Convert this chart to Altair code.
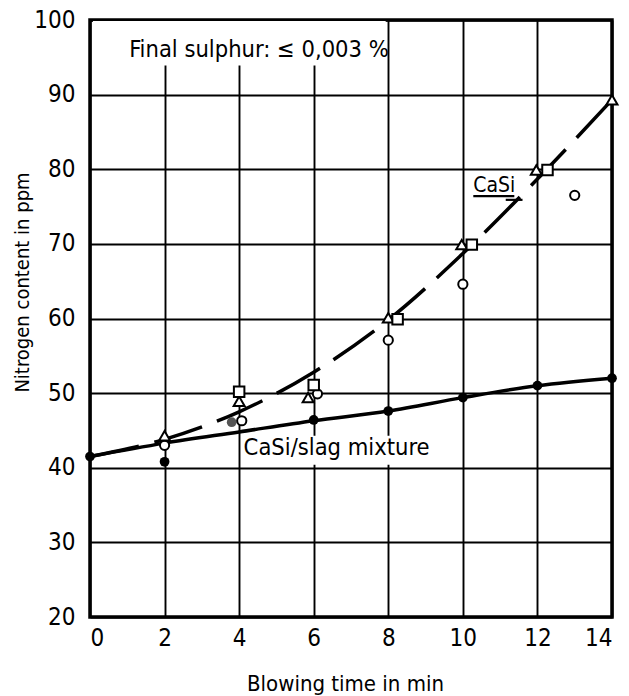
import altair as alt
import pandas as pd

# ---- data ----
time_grid = [0, 2, 4, 6, 8, 10, 12, 14]
casi_curve = [41.5, 43.8, 47.5, 52.8, 59.8, 68.7, 78.7, 89.3]
mix_curve = [41.5, 43.3, 44.8, 46.3, 47.6, 49.4, 51.0, 52.0]

mix_pts_x = [0, 2, 6, 8, 10, 12, 14]
mix_pts_y = [41.5, 40.8, 46.4, 47.6, 49.4, 51.0, 52.0]

gray_pts_x = [3.8]
gray_pts_y = [46.1]

tri_x = [2, 4, 5.85, 8, 9.97, 11.97, 14]
tri_y = [44.3, 48.9, 49.4, 60.1, 69.9, 79.9, 89.3]

sq_x = [4, 6, 8.25, 10.24, 12.27]
sq_y = [50.2, 51.1, 59.9, 69.9, 79.9]

circ_x = [2, 4.07, 6.1, 8, 10, 13]
circ_y = [43.0, 46.3, 49.9, 57.1, 64.6, 76.5]

x_ticks = [0, 2, 4, 6, 8, 10, 12, 14]
y_ticks = [20, 30, 40, 50, 60, 70, 80, 90, 100]

FONT = "DejaVu Sans Condensed, Liberation Sans Narrow, DejaVu Sans, sans-serif"
TICKFONT = "Liberation Sans Narrow, DejaVu Sans Condensed, sans-serif"

W, H = 522, 597

xs = alt.Scale(domain=[0, 14], nice=False, zero=False)
ys = alt.Scale(domain=[20, 100], nice=False, zero=False)

curves = pd.DataFrame({"t": time_grid, "casi": casi_curve, "mix": mix_curve})

x_axis = alt.Axis(
    values=x_ticks, grid=True, gridColor="black", gridWidth=1.9, gridOpacity=1,
    ticks=False, domain=False, labelFont=TICKFONT, labelFontSize=24, labelColor="black",
    labelPadding=9, labelBaseline="top", title="Blowing time in min",
    titleFont=FONT, titleFontSize=22, titleFontWeight="normal", titleColor="black",
    titleX=255, titleY=73, titleBaseline="alphabetic", titleAnchor="start", titleAlign="center",
)
y_axis = alt.Axis(
    values=y_ticks, grid=True, gridColor="black", gridWidth=1.9, gridOpacity=1,
    ticks=False, domain=False, labelFont=TICKFONT, labelFontSize=24, labelColor="black",
    labelPadding=15, title="Nitrogen content in ppm",
    titleFont=FONT, titleFontSize=20, titleFontWeight="normal", titleColor="black",
    titleX=-68, titleY=262, titleAngle=-90, titleAlign="center", titleBaseline="middle",
    titleAnchor="start",
)

base_axes = alt.Chart(curves).mark_line(opacity=0).encode(
    x=alt.X("t:Q", scale=xs, axis=x_axis),
    y=alt.Y("mix:Q", scale=ys, axis=y_axis),
)

mix_line = alt.Chart(curves).mark_line(color="black", strokeWidth=3.5, interpolate="monotone").encode(
    x=alt.X("t:Q", scale=xs), y=alt.Y("mix:Q", scale=ys)
)
casi_line = alt.Chart(curves).mark_line(
    color="black", strokeWidth=3.5, interpolate="monotone", strokeDash=[50, 16]
).encode(x=alt.X("t:Q", scale=xs), y=alt.Y("casi:Q", scale=ys))

# white boxes behind the annotation texts
boxes = pd.DataFrame({
    "x1": [0.08, 4.06], "x2": [7.93, 9.4],
    "y1": [93.9, 40.4], "y2": [99.85, 44.3],
})
box_layer = alt.Chart(boxes).mark_rect(fill="white").encode(
    x=alt.X("x1:Q", scale=xs), x2="x2:Q", y=alt.Y("y1:Q", scale=ys), y2="y2:Q"
)

def pts(xv, yv):
    return pd.DataFrame({"x": xv, "y": yv})

filled = alt.Chart(pts(mix_pts_x, mix_pts_y)).mark_point(
    shape="circle", filled=True, color="black", size=95, opacity=1
).encode(x=alt.X("x:Q", scale=xs), y=alt.Y("y:Q", scale=ys))

gray = alt.Chart(pts(gray_pts_x, gray_pts_y)).mark_point(
    shape="circle", filled=True, color="#555555", size=95, opacity=1
).encode(x=alt.X("x:Q", scale=xs), y=alt.Y("y:Q", scale=ys))

tris = alt.Chart(pts(tri_x, tri_y)).mark_point(
    shape="triangle-up", fill="white", stroke="black", strokeWidth=2, size=120, opacity=1, fillOpacity=1
).encode(x=alt.X("x:Q", scale=xs), y=alt.Y("y:Q", scale=ys))

sqs = alt.Chart(pts(sq_x, sq_y)).mark_point(
    shape="square", fill="white", stroke="black", strokeWidth=2, size=110, opacity=1, fillOpacity=1
).encode(x=alt.X("x:Q", scale=xs), y=alt.Y("y:Q", scale=ys))

circs = alt.Chart(pts(circ_x, circ_y)).mark_point(
    shape="circle", fill="white", stroke="black", strokeWidth=2, size=85, opacity=1, fillOpacity=1
).encode(x=alt.X("x:Q", scale=xs), y=alt.Y("y:Q", scale=ys))

labels = pd.DataFrame({
    "x": [1.05, 4.12, 10.28],
    "y": [96.0, 42.6, 77.7],
    "txt": ["Final sulphur: \u2264 0,003 %", "CaSi/slag  mixture", "CaSi"],
    "size": [23.5, 23.5, 21],
})
text_layer = alt.Chart(labels).mark_text(
    font=FONT, align="left", baseline="middle", color="black"
).encode(
    x=alt.X("x:Q", scale=xs), y=alt.Y("y:Q", scale=ys), text="txt:N",
    size=alt.Size("size:Q", scale=None, legend=None),
)

rules = pd.DataFrame({
    "x1": [10.28, 11.15], "x2": [11.38, 11.6],
    "y1": [76.4, 75.9], "y2": [76.4, 75.9],
})
rule_layer = alt.Chart(rules).mark_rule(color="black", strokeWidth=2.2).encode(
    x=alt.X("x1:Q", scale=xs), x2="x2:Q", y=alt.Y("y1:Q", scale=ys), y2="y2:Q"
)

chart = alt.layer(
    base_axes, mix_line, casi_line, box_layer, filled, gray, circs, tris, sqs,
    text_layer, rule_layer
).properties(
    width=W, height=H,
    autosize=alt.AutoSizeParams(type="none"),
    padding={"left": 90, "top": 20, "right": 17, "bottom": 79},
    background="white",
).configure_view(stroke="black", strokeWidth=3.5)

chart.save("out.html", embed_options={"renderer": "svg", "actions": False})
